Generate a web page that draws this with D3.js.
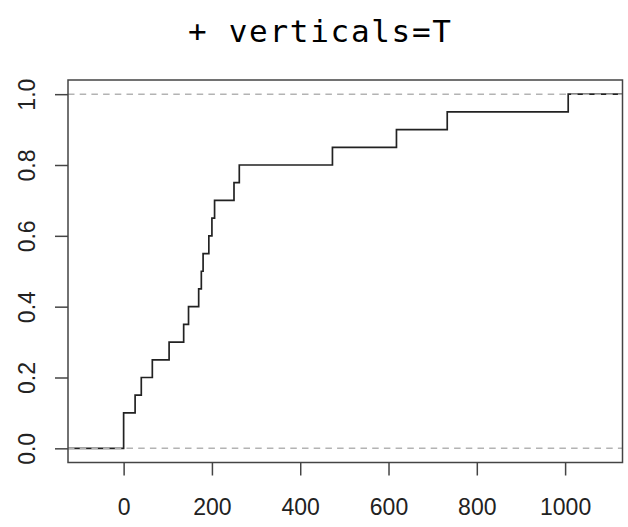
<!DOCTYPE html>
<html>
<head>
<meta charset="utf-8">
<script src="https://cdn.jsdelivr.net/npm/d3@7"></script>
<style>
  html, body { margin: 0; padding: 0; background: #fff; }
  svg { display: block; }
</style>
</head>
<body>
<svg id="chart" width="628" height="527"></svg>
<script>
// ECDF knots (sample values) and cumulative proportions
const knots = [0, 26, 40, 65, 103, 136, 147, 170, 176, 180, 193, 200, 206, 250, 262, 473, 618, 733, 1007];
const ecdfValues = [0.10, 0.15, 0.20, 0.25, 0.30, 0.35, 0.40, 0.45, 0.50, 0.55, 0.60, 0.65, 0.70, 0.75, 0.80, 0.85, 0.90, 0.95, 1.00];
const xTicks = [0, 200, 400, 600, 800, 1000];
const yTicks = [0.0, 0.2, 0.4, 0.6, 0.8, 1.0];
const refLines = [0, 1];
const title = "+ verticals=T";

const svg = d3.select("#chart");
const box = { left: 68, top: 80, right: 622.5, bottom: 462.5 };

const x = d3.scaleLinear().domain([-126, 1130]).range([box.left, box.right]);
const y = d3.scaleLinear().domain([-0.04, 1.04]).range([box.bottom, box.top]);

svg.append("defs").append("clipPath").attr("id", "plotclip")
  .append("rect")
  .attr("x", box.left).attr("y", box.top)
  .attr("width", box.right - box.left).attr("height", box.bottom - box.top);

// Step function (extends beyond plot edges, clipped)
const pts = [[-400, 0]].concat(knots.map((k, i) => [k, ecdfValues[i]])).concat([[1500, 1]]);
const line = d3.line().x(d => x(d[0])).y(d => y(d[1])).curve(d3.curveStepAfter);

const g = svg.append("g").attr("clip-path", "url(#plotclip)");
g.append("path")
  .attr("d", line(pts))
  .attr("fill", "none")
  .attr("stroke", "#222")
  .attr("stroke-width", 1.7);

// Gray dashed reference lines drawn on top
g.selectAll("line.ref").data(refLines).enter().append("line")
  .attr("class", "ref")
  .attr("x1", box.left).attr("x2", box.right)
  .attr("y1", d => y(d)).attr("y2", d => y(d))
  .attr("stroke", "#b3b3b3")
  .attr("stroke-width", 1.5)
  .attr("stroke-dasharray", "6.5,5.2");

// Box
svg.append("rect")
  .attr("x", box.left).attr("y", box.top)
  .attr("width", box.right - box.left).attr("height", box.bottom - box.top)
  .attr("fill", "none").attr("stroke", "#444").attr("stroke-width", 1.5);

// X axis
const xAxis = d3.axisBottom(x).tickValues(xTicks).tickSize(13).tickPadding(26).tickFormat(d3.format("d"));
const xg = svg.append("g").attr("transform", `translate(0,${box.bottom})`).call(xAxis);
xg.select(".domain").remove();
xg.selectAll(".tick line").attr("stroke", "#444").attr("stroke-width", 1.5);
xg.selectAll(".tick text")
  .attr("font-family", "'Liberation Sans', Arial, sans-serif")
  .attr("font-size", 23).attr("fill", "#222")
  .attr("dy", null).attr("y", 52.5);

// Y axis
const yAxis = d3.axisLeft(y).tickValues(yTicks).tickSize(13).tickFormat(d3.format(".1f"));
const yg = svg.append("g").attr("transform", `translate(${box.left},0)`).call(yAxis);
yg.select(".domain").remove();
yg.selectAll(".tick line").attr("stroke", "#444").attr("stroke-width", 1.5);
yg.selectAll(".tick text")
  .attr("font-family", "'Liberation Sans', Arial, sans-serif")
  .attr("font-size", 23).attr("fill", "#222")
  .attr("x", null).attr("dy", null)
  .attr("text-anchor", "middle")
  .attr("transform", `translate(${35 - box.left},0) rotate(-90)`);

// Title
svg.append("text")
  .attr("x", 188).attr("y", 42)
  .attr("font-family", "'DejaVu Sans Mono', 'Liberation Mono', monospace")
  .attr("font-size", 31)
  .attr("textLength", 263)
  .attr("lengthAdjust", "spacing")
  .attr("fill", "#000")
  .text(title);
</script>
</body>
</html>
